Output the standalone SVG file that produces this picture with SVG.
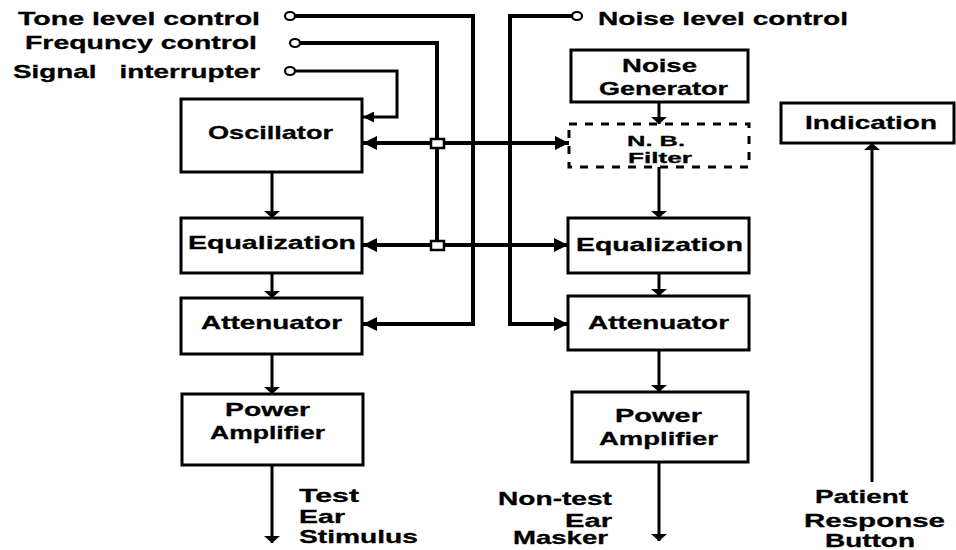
<svg xmlns="http://www.w3.org/2000/svg" width="956" height="550" viewBox="0 0 956 550">
<defs>
<style>
text{font-family:"Liberation Sans",Arial,sans-serif;font-weight:bold;font-size:19px;fill:#000;stroke:#000;stroke-width:0.3}
.sm{font-size:15.5px}
.box{fill:#fff;stroke:#000;stroke-width:3}
.dash{fill:#fff;stroke:#000;stroke-width:3;stroke-dasharray:8 8}
.w{fill:none;stroke:#000;stroke-width:4}
.t{fill:none;stroke:#000;stroke-width:3}
.term{fill:#fff;stroke:#000;stroke-width:2.2}
.jn{fill:#fff;stroke:#000;stroke-width:2.5}
</style>
<marker id="ah" viewBox="0 0 14 14" markerWidth="14" markerHeight="14" refX="14" refY="7" orient="auto-start-reverse" markerUnits="userSpaceOnUse"><path d="M0,0 L14,7 L0,14 z" fill="#000"/></marker>
<marker id="as" viewBox="0 0 11 11" markerWidth="11" markerHeight="11" refX="11" refY="5.5" orient="auto" markerUnits="userSpaceOnUse"><path d="M0,0 L11,5.5 L0,11 z" fill="#000"/></marker>
<marker id="av" viewBox="0 0 7 16" markerWidth="7" markerHeight="16" refX="7" refY="8" orient="auto" markerUnits="userSpaceOnUse"><path d="M0,0 L7,8 L0,16 z" fill="#000"/></marker>
</defs>
<rect width="956" height="550" fill="#fff"/>

<g id="connectors">
<path class="w" d="M295,16 H473 V324 H363" marker-end="url(#ah)"/>
<path class="w" d="M300,43 H437 V245"/>
<path class="t" d="M295,71 H397 V117 H363" marker-end="url(#as)"/>
<path class="w" d="M363,143 H569" marker-start="url(#ah)" marker-end="url(#ah)"/>
<path class="w" d="M363,245 H568" marker-start="url(#ah)" marker-end="url(#ah)"/>
<path class="w" d="M572,16 H510 V324 H568" marker-end="url(#ah)"/>
<path class="t" d="M272,172 V218" marker-end="url(#av)"/>
<path class="t" d="M272,273 V298" marker-end="url(#av)"/>
<path class="t" d="M272,354 V394" marker-end="url(#av)"/>
<path class="t" d="M272,465 V543" marker-end="url(#av)"/>
<path class="t" d="M659,102 V124" marker-end="url(#av)"/>
<path class="t" d="M659,167 V218" marker-end="url(#av)"/>
<path class="t" d="M659,273 V296" marker-end="url(#av)"/>
<path class="t" d="M659,350 V392" marker-end="url(#av)"/>
<path class="t" d="M659,462 V541" marker-end="url(#av)"/>
<path class="t" d="M872,482 V143" marker-end="url(#av)"/>
<ellipse class="term" cx="290" cy="16" rx="5" ry="4"/>
<ellipse class="term" cx="295" cy="43" rx="5" ry="4"/>
<ellipse class="term" cx="290" cy="71" rx="5" ry="4"/>
<ellipse class="term" cx="577" cy="16" rx="5" ry="4"/>
<rect class="jn" x="431" y="139" width="13" height="9"/>
<rect class="jn" x="431" y="241" width="13" height="9"/>
</g>

<g id="labels">
<text x="18" y="25" textLength="242" lengthAdjust="spacingAndGlyphs">Tone level control</text>
<text x="25" y="49" textLength="232" lengthAdjust="spacingAndGlyphs">Frequncy control</text>
<text x="13" y="78" textLength="247" lengthAdjust="spacingAndGlyphs" style="white-space:pre">Signal   interrupter</text>
<text x="598" y="25" textLength="250" lengthAdjust="spacingAndGlyphs">Noise level control</text>
<text x="299" y="502" textLength="60" lengthAdjust="spacingAndGlyphs">Test</text>
<text x="299" y="523" textLength="46" lengthAdjust="spacingAndGlyphs">Ear</text>
<text x="299" y="543" textLength="119" lengthAdjust="spacingAndGlyphs">Stimulus</text>
<text x="498" y="505" textLength="114" lengthAdjust="spacingAndGlyphs">Non-test</text>
<text x="565" y="527" textLength="47" lengthAdjust="spacingAndGlyphs">Ear</text>
<text x="513" y="544" textLength="95" lengthAdjust="spacingAndGlyphs">Masker</text>
<text x="815" y="503" textLength="93" lengthAdjust="spacingAndGlyphs">Patient</text>
<text x="804" y="527" textLength="141" lengthAdjust="spacingAndGlyphs">Response</text>
<text x="825" y="547" textLength="90" lengthAdjust="spacingAndGlyphs">Button</text>
</g>

<g id="oscillator">
<rect class="box" x="181" y="99" width="181" height="73"/>
<text x="208" y="139" textLength="125" lengthAdjust="spacingAndGlyphs">Oscillator</text>
</g>
<g id="equalization-left">
<rect class="box" x="181" y="218" width="181" height="55"/>
<text x="188" y="249" textLength="168" lengthAdjust="spacingAndGlyphs">Equalization</text>
</g>
<g id="attenuator-left">
<rect class="box" x="181" y="298" width="181" height="56"/>
<text x="201" y="329" textLength="141" lengthAdjust="spacingAndGlyphs">Attenuator</text>
</g>
<g id="power-amp-left">
<rect class="box" x="182" y="394" width="181" height="71"/>
<text x="225" y="416" textLength="85" lengthAdjust="spacingAndGlyphs">Power</text>
<text x="210" y="439" textLength="115" lengthAdjust="spacingAndGlyphs">Amplifier</text>
</g>
<g id="noise-generator">
<rect class="box" x="571" y="50" width="177" height="52"/>
<text x="622" y="72" textLength="75" lengthAdjust="spacingAndGlyphs">Noise</text>
<text x="599" y="95" textLength="129" lengthAdjust="spacingAndGlyphs">Generator</text>
</g>
<g id="nb-filter">
<rect class="dash" x="569" y="124" width="180" height="43"/>
<text class="sm" x="627" y="146" textLength="58" lengthAdjust="spacingAndGlyphs">N. B.</text>
<text class="sm" x="628" y="163" textLength="64" lengthAdjust="spacingAndGlyphs">Filter</text>
</g>
<g id="equalization-right">
<rect class="box" x="568" y="218" width="181" height="55"/>
<text x="576" y="251" textLength="167" lengthAdjust="spacingAndGlyphs">Equalization</text>
</g>
<g id="attenuator-right">
<rect class="box" x="568" y="296" width="181" height="54"/>
<text x="588" y="329" textLength="141" lengthAdjust="spacingAndGlyphs">Attenuator</text>
</g>
<g id="power-amp-right">
<rect class="box" x="572" y="392" width="176" height="70"/>
<text x="615" y="422" textLength="87" lengthAdjust="spacingAndGlyphs">Power</text>
<text x="599" y="445" textLength="119" lengthAdjust="spacingAndGlyphs">Amplifier</text>
</g>
<g id="indication">
<rect class="box" x="781" y="103" width="173" height="40"/>
<text x="805" y="129" textLength="132" lengthAdjust="spacingAndGlyphs">Indication</text>
</g>
</svg>
